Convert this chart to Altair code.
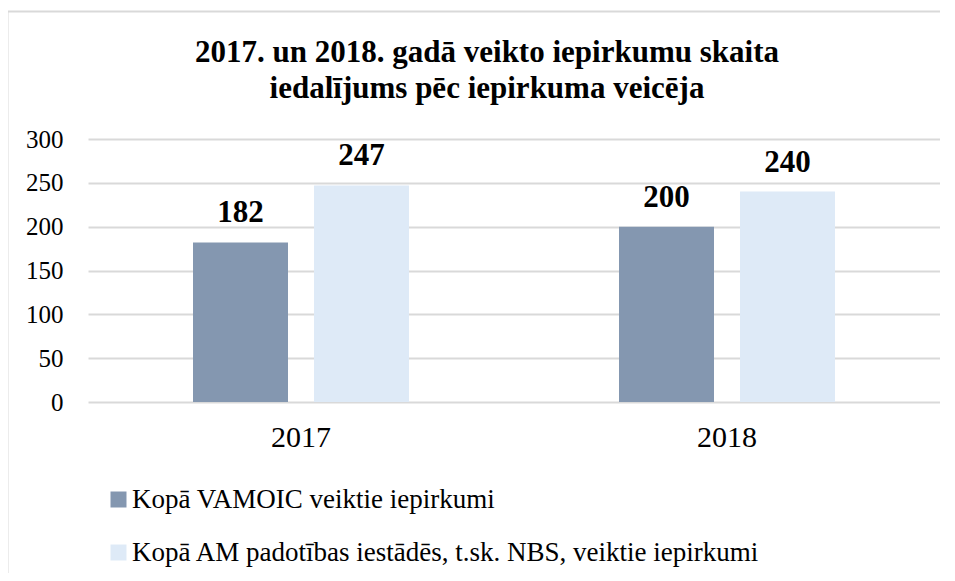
import altair as alt
import pandas as pd

years = ["2017", "2018"]
series = ["Kopā VAMOIC veiktie iepirkumi",
          "Kopā AM padotības iestādēs, t.sk. NBS, veiktie iepirkumi"]
vamoic = [182, 200]
am = [247, 240]
colors = ["#8497B0", "#DEEAF7"]
title_lines = ["2017. un 2018. gadā veikto iepirkumu skaita",
               "iedalījums pēc iepirkuma veicēja"]

rows = []
for i, y in enumerate(years):
    rows.append({"year": y, "series": series[0], "value": vamoic[i]})
    rows.append({"year": y, "series": series[1], "value": am[i]})
df = pd.DataFrame(rows)

FONT = "Liberation Serif"

x = alt.X("year:N", title=None,
          scale=alt.Scale(paddingInner=0.493, paddingOuter=0.2465),
          axis=alt.Axis(labelAngle=0, labelFont=FONT, labelFontSize=30,
                        labelColor="#000000", ticks=False, domain=False,
                        labelPadding=20, grid=False))
xoff = alt.XOffset("series:N", sort=series,
                   scale=alt.Scale(paddingInner=0.215, paddingOuter=0))
y = alt.Y("value:Q", title=None,
          scale=alt.Scale(domain=[0, 300]),
          axis=alt.Axis(values=[0, 50, 100, 150, 200, 250, 300],
                        labelFont=FONT, labelFontSize=25, labelColor="#000000",
                        ticks=False, domain=False, labelPadding=25,
                        grid=True, gridColor="#D9D9D9", gridWidth=2))

base = alt.Chart(df)

bars = base.mark_bar().encode(
    x=x, xOffset=xoff, y=y,
    color=alt.Color("series:N", sort=series,
                    scale=alt.Scale(domain=series, range=colors),
                    legend=alt.Legend(title=None, orient="none",
                                      legendX=17, legendY=347,
                                      direction="vertical",
                                      symbolType="square", symbolSize=256,
                                      symbolStrokeWidth=0,
                                      labelFont=FONT, labelFontSize=27,
                                      labelColor="#000000", labelLimit=900,
                                      rowPadding=25, labelOffset=0)),
)

labels = base.mark_text(font=FONT, fontSize=31, fontWeight="bold",
                        color="#000000", baseline="alphabetic", dy=-20).encode(
    x=x, xOffset=xoff, y=y, text="value:Q"
)

title_df = pd.DataFrame({"title": ["\n".join(title_lines)]})
title = alt.Chart(title_df).mark_text(
    font=FONT, fontSize=31, fontWeight="bold", color="#000000",
    baseline="alphabetic", align="center", lineBreak="\n", lineHeight=36
).encode(
    text="title:N",
    x=alt.value(399),
    y=alt.value(-77),
)

frame_df = pd.DataFrame({"k": [0]})
frame = alt.Chart(frame_df).mark_rect(fill=None, stroke="#D9D9D9",
                                       strokeWidth=2).encode(
    x=alt.value(-80.5), x2=alt.value(880), y=alt.value(-127.5), y2=alt.value(470)
)

chart = alt.layer(frame, title, bars, labels).properties(
    width=852, height=263,
    autosize=alt.AutoSizeParams(type="none"),
    padding={"left": 80, "top": 131, "right": 0, "bottom": 171},
).configure_view(stroke=None)

chart.save("out.html", embed_options={"renderer": "svg", "actions": False})
